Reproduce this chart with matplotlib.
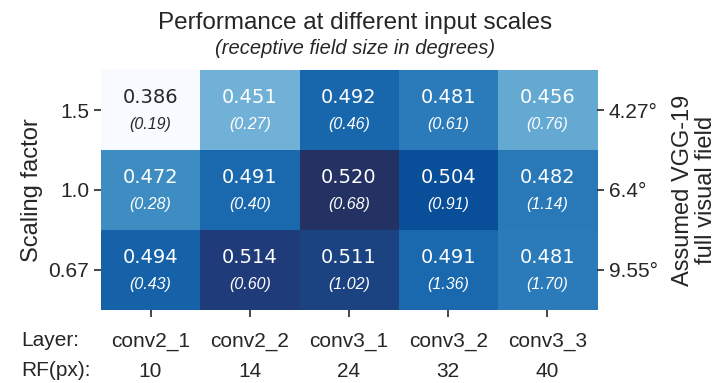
import numpy as np
import matplotlib
matplotlib.use("Agg")
import matplotlib.pyplot as plt
import seaborn as sns
from matplotlib.colors import LinearSegmentedColormap

layers = ["conv2_1", "conv2_2", "conv3_1", "conv3_2", "conv3_3"]
rf_px = [10, 14, 24, 32, 40]
scales = ["1.5", "1.0", "0.67"]
field_deg = ["4.27°", "6.4°", "9.55°"]
perf = np.array([
    [0.386, 0.451, 0.492, 0.481, 0.456],
    [0.472, 0.491, 0.520, 0.504, 0.482],
    [0.494, 0.514, 0.511, 0.491, 0.481],
])
rf_deg = np.array([
    [0.19, 0.27, 0.46, 0.61, 0.76],
    [0.28, 0.40, 0.68, 0.91, 1.14],
    [0.43, 0.60, 1.02, 1.36, 1.70],
])

sns.set_style("ticks")
plt.rcParams['font.family'] = ['Liberation Sans', 'DejaVu Sans']

fig = plt.figure(figsize=(7.21, 3.83), dpi=100)
ax = fig.add_axes([0.140, 0.191, 0.688, 0.626])

base = plt.get_cmap("Blues")
pos = list(np.linspace(0, 0.88, 12))
stops = [(p, base(p)) for p in pos] + [(0.93, "#1c4583"), (0.96, "#213a78"), (1.0, "#233163")]
cmap = LinearSegmentedColormap.from_list("blues_navy", stops)
norm = plt.Normalize(perf.min(), perf.max())
ax.imshow(perf, cmap=cmap, norm=norm, aspect="auto")

for i in range(perf.shape[0]):
    for j in range(perf.shape[1]):
        col = "#262626" if norm(perf[i, j]) < 0.3 else "white"
        ax.text(j, i - 0.16, f"{perf[i, j]:.3f}", ha="center", va="center",
                fontsize=14, color=col, family="DejaVu Sans")
        ax.text(j, i + 0.18, f"({rf_deg[i, j]:.2f})", ha="center", va="center",
                fontsize=11.5, color=col, style="italic")

for s in ax.spines.values():
    s.set_visible(False)

ax.set_xticks(range(len(layers)))
ax.set_xticklabels([f"{l}\n{r}" for l, r in zip(layers, rf_px)], fontsize=15,
                   linespacing=1.75)
ax.set_yticks(range(len(scales)))
ax.set_yticklabels(scales, fontsize=15)
ax.tick_params(axis="both", length=5, width=1.2, color="#262626", labelcolor="#262626")
ax.tick_params(axis="x", pad=11)
ax.set_ylabel("Scaling factor", fontsize=17, color="#262626")

ax2 = ax.twinx()
ax2.set_ylim(ax.get_ylim())
ax2.set_yticks(range(len(field_deg)))
ax2.set_yticklabels(field_deg, fontsize=15)
ax2.tick_params(axis="y", length=5, width=1.2, color="#262626", labelcolor="#262626")
for s in ax2.spines.values():
    s.set_visible(False)
ax2.set_ylabel("Assumed VGG-19\nfull visual field", fontsize=17, color="#262626",
               linespacing=1.1, labelpad=10)

fig.text(0.03, 0.072, "Layer:\nRF(px):", fontsize=15, color="#262626",
         ha="left", va="center", linespacing=1.75)

fig.text(0.492, 0.94, "Performance at different input scales", fontsize=17.5,
         color="#262626", ha="center", va="center")
fig.text(0.492, 0.873, "(receptive field size in degrees)", fontsize=14.5,
         color="#262626", ha="center", va="center", style="italic")

fig.savefig("out.png", dpi=100)
